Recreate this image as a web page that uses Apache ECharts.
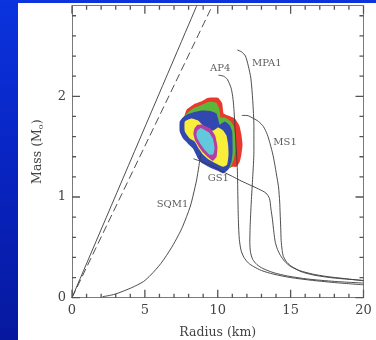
<!DOCTYPE html>
<html><head><meta charset="utf-8">
<script src="https://cdn.jsdelivr.net/npm/echarts@6/dist/echarts.min.js"></script>
<style>
html,body{margin:0;padding:0;width:376px;height:340px;overflow:hidden;
background:linear-gradient(to bottom,#0b33de 0%,#0824c0 50%,#06189e 100%);}
#chart{position:absolute;left:18px;top:3px;width:358px;height:337px;background:#fff;}
</style></head><body><div id="chart"></div>
<script>
// ---- ticks and tick labels ----
const xTickLabels = ['0','5','10','15','20'];
const yTickLabels = ['0','1','2'];
const xMajorTicks = [0,5,10,15,20];
const xMinorTicks = [1,2,3,4,6,7,8,9,11,12,13,14,16,17,18,19];
const yMajorTicks = [0,1,2];
const yMinorTicks = [0.2,0.4,0.6,0.8,1.2,1.4,1.6,1.8,2.2,2.4,2.6,2.8];

// ---- limit lines (radius km, mass Msun) ----
const gr_limit = [[0,0],[8.56,2.9]];
const causal_limit = [[0,0],[9.63,2.9]];

// ---- mass-radius curves ----
const SQM1 = [[2.1,0.01],[2.95,0.035],[4.1,0.10],[4.9,0.16],[5.4,0.225],[6.1,0.34],[6.84,0.50],[7.3,0.62],[7.6,0.71],[8.1,0.90],[8.35,1.04],[8.55,1.17],[8.7,1.30],[8.82,1.42]];
const AP4 = [[10.05,2.21],[10.4,2.20],[10.65,2.17],[10.92,2.08],[11.05,1.97],[11.12,1.85],[11.2,1.65],[11.28,1.45],[11.35,1.25],[11.38,1.0],[11.42,0.75],[11.48,0.58],[11.6,0.47],[11.8,0.40],[12.1,0.345],[12.45,0.31],[13.0,0.27],[13.8,0.235],[15.0,0.20],[16.5,0.172],[18.2,0.148],[20,0.128]];
const MPA1 = [[11.35,2.46],[11.65,2.44],[11.9,2.40],[12.1,2.30],[12.27,2.18],[12.4,1.96],[12.48,1.70],[12.48,1.45],[12.4,1.2],[12.3,0.95],[12.22,0.70],[12.2,0.55],[12.25,0.45],[12.4,0.38],[12.68,0.33],[13.1,0.29],[13.8,0.25],[14.8,0.215],[16.2,0.185],[18,0.162],[20,0.145]];
const MS1 = [[11.65,1.81],[12.0,1.81],[12.45,1.78],[12.8,1.75],[13.13,1.70],[13.4,1.62],[13.59,1.53],[13.8,1.41],[13.94,1.30],[14.08,1.18],[14.17,1.10],[14.25,0.95],[14.28,0.84],[14.32,0.70],[14.35,0.57],[14.42,0.47],[14.5,0.41],[14.75,0.35],[15.08,0.31],[15.7,0.26],[16.57,0.225],[18.0,0.195],[20,0.172]];
const GS1 = [[8.33,1.38],[9.0,1.345],[9.6,1.31],[10.3,1.255],[11.0,1.205],[11.6,1.16],[12.2,1.12],[12.8,1.08],[13.3,1.04],[13.55,0.985],[13.65,0.88],[13.75,0.78],[13.85,0.65],[13.95,0.55],[14.1,0.48],[14.3,0.42],[14.6,0.36],[15.0,0.31],[15.6,0.27],[16.5,0.235],[17.5,0.21],[18.7,0.19],[20,0.168]];

// ---- curve names and label anchors (data coords) ----
const curveNames = ['AP4','MPA1','MS1','GS1','SQM1'];
const curveLabelAt = [[10.16,2.28],[13.37,2.33],[14.62,1.54],[10.04,1.18],[6.9,0.93]];

// ---- probability contour regions (outer to inner) ----
const regionRed = [[7.7,1.80],[7.87,1.87],[8.35,1.92],[8.9,1.95],[9.34,1.985],[10.02,1.985],[10.3,1.93],[10.4,1.83],[10.71,1.81],[11.17,1.78],[11.48,1.71],[11.62,1.62],[11.7,1.52],[11.62,1.42],[11.51,1.35],[11.28,1.30],[11.0,1.30],[10.6,1.27],[9.5,1.3],[8.7,1.42],[8.0,1.55],[7.45,1.7]];
const regionGreen = [[7.8,1.82],[8.35,1.885],[8.9,1.915],[9.4,1.945],[9.9,1.935],[10.12,1.87],[10.2,1.79],[10.5,1.79],[10.9,1.75],[11.1,1.70],[11.2,1.62],[11.22,1.48],[11.12,1.38],[10.9,1.30],[10.6,1.27],[9.5,1.3],[8.7,1.42],[8.0,1.55],[7.45,1.7]];
const regionBlue = [[7.6,1.79],[7.9,1.82],[8.4,1.845],[8.9,1.86],[9.5,1.855],[9.91,1.83],[10.02,1.78],[10.14,1.72],[10.48,1.75],[10.83,1.71],[10.99,1.65],[11.02,1.45],[10.94,1.35],[10.71,1.27],[10.37,1.235],[10.0,1.26],[9.5,1.29],[8.88,1.34],[8.65,1.38],[8.31,1.48],[7.96,1.53],[7.62,1.58],[7.39,1.65],[7.39,1.75]];
const regionYellow = [[7.74,1.75],[8.19,1.78],[8.65,1.76],[8.99,1.71],[9.3,1.66],[9.7,1.66],[10.02,1.69],[10.37,1.66],[10.60,1.61],[10.71,1.52],[10.74,1.42],[10.64,1.32],[10.37,1.30],[9.91,1.33],[9.4,1.37],[9.0,1.42],[8.7,1.48],[8.42,1.55],[8.08,1.58],[7.74,1.65]];
const regionMagenta = [[8.4,1.68],[8.6,1.715],[8.9,1.72],[9.2,1.70],[9.5,1.68],[9.82,1.61],[9.98,1.50],[9.92,1.40],[9.66,1.36],[9.3,1.40],[8.95,1.45],[8.7,1.50],[8.45,1.56],[8.33,1.63]];
const regionCyan = [[8.6,1.66],[8.85,1.685],[9.1,1.665],[9.4,1.64],[9.66,1.58],[9.78,1.49],[9.7,1.425],[9.45,1.42],[9.1,1.47],[8.8,1.53],[8.6,1.58],[8.53,1.62]];
const regions = [regionRed, regionGreen, regionBlue, regionYellow, regionMagenta, regionCyan];
const regionColors = ['#e8392b','#5db63a','#3247b0','#f9ee3a','#b53ea0','#62c8dc'];

const FONT = 'DejaVu Serif';
const AX = '#7a7a7a';
const TK = '#555555';
const LINE = '#3a3a3a';
const X_MIN = 0, X_MAX = 20, Y_MIN = 0, Y_MAX = 2.9;

function xAxisDef(pos, showLabel) {
  return {
    type:'value', position:pos, min:X_MIN, max:X_MAX, interval:5,
    axisLine:{show:true, onZero:false, lineStyle:{color:AX, width:1}},
    axisTick:{show:false}, minorTick:{show:false}, splitLine:{show:false},
    axisLabel:{show:showLabel, margin:6, color:'#444', fontFamily:FONT, fontSize:13,
      formatter:(v)=>xTickLabels[Math.round(v/5)] || ''}
  };
}
function yAxisDef(pos, showLabel) {
  return {
    type:'value', position:pos, min:Y_MIN, max:Y_MAX, interval:1,
    axisLine:{show:true, onZero:false, lineStyle:{color:AX, width:1}},
    axisTick:{show:false}, splitLine:{show:false},
    axisLabel:{show:showLabel, showMaxLabel:false, margin:6, color:'#444', fontFamily:FONT, fontSize:13,
      formatter:(v)=> (Math.abs(v-Math.round(v))<1e-6 && yTickLabels[Math.round(v)]) ? yTickLabels[Math.round(v)] : ''}
  };
}
const xMain = xAxisDef('bottom', true);
xMain.name = 'Radius (km)';
xMain.nameLocation = 'middle';
xMain.nameGap = 29;
xMain.nameTextStyle = {fontFamily:FONT, fontSize:12.5, color:'#444'};
const yMain = yAxisDef('left', true);
yMain.name = 'Mass (M{s|o})';
yMain.nameLocation = 'middle';
yMain.nameGap = 27;
yMain.nameTextStyle = {fontFamily:FONT, fontSize:12.5, color:'#444',
  rich:{s:{fontFamily:FONT, fontSize:8, color:'#444', verticalAlign:'bottom', padding:[6,0,0,0]}}};

// tick items drawn as short line series through the axes' own scales
function tickSeries(points) {
  return {
    type:'line', data:points, xAxisIndex:0, yAxisIndex:0, z:6,
    showSymbol:false, symbol:'none', clip:false, connectNulls:false, silent:true,
    lineStyle:{color:TK, width:1.3}
  };
}
// each tick is a short segment (from axis edge inward); null separates segments
const X_MAJ_LEN = 0.08, X_MIN_LEN = 0.04;   // in mass units (vertical ticks)
const Y_MAJ_LEN = 0.55, Y_MIN_LEN = 0.275;  // in km units (horizontal ticks)
const tickSegs = [];
xMajorTicks.forEach(v=>{ tickSegs.push([v,Y_MIN],[v,Y_MIN+X_MAJ_LEN],null,[v,Y_MAX],[v,Y_MAX-X_MAJ_LEN],null); });
xMinorTicks.forEach(v=>{ tickSegs.push([v,Y_MIN],[v,Y_MIN+X_MIN_LEN],null,[v,Y_MAX],[v,Y_MAX-X_MIN_LEN],null); });
yMajorTicks.forEach(v=>{ tickSegs.push([X_MIN,v],[X_MIN+Y_MAJ_LEN,v],null,[X_MAX,v],[X_MAX-Y_MAJ_LEN,v],null); });
yMinorTicks.forEach(v=>{ tickSegs.push([X_MIN,v],[X_MIN+Y_MIN_LEN,v],null,[X_MAX,v],[X_MAX-Y_MIN_LEN,v],null); });

function lineSeries(name, data, dashed) {
  return {
    type:'line', name:name, data:data, xAxisIndex:0, yAxisIndex:0,
    showSymbol:false, symbol:'none', smooth:0.25, clip:true, z:3,
    lineStyle:{color:LINE, width:0.9, type: dashed ? [8,4] : 'solid'}
  };
}
const option = {
  animation:false,
  backgroundColor:'#ffffff',
  grid:{left:54, right:12.5, top:2.7, bottom:42.3, containLabel:false, outerBoundsMode:'none'},
  xAxis:[xMain, xAxisDef('top', false)],
  yAxis:[yMain, yAxisDef('right', false)],
  series:[
    {
      type:'custom', xAxisIndex:0, yAxisIndex:0, z:1, clip:true,
      data: regions.map((r,i)=>[r[0][0], r[0][1], i]),
      encode:{x:0, y:1},
      renderItem:function(params, api){
        const idx = api.value(2);
        const pts = regions[idx].map(p=>api.coord(p));
        return {type:'polygon', shape:{points:pts, smooth:0.15},
          style:{fill:regionColors[idx], stroke:null}};
      }
    },
    tickSeries(tickSegs.map(p=> p === null ? [null, null] : p)),
    lineSeries('gr', gr_limit, false),
    lineSeries('causal', causal_limit, true),
    lineSeries('SQM1', SQM1),
    lineSeries('AP4', AP4),
    lineSeries('MPA1', MPA1),
    lineSeries('MS1', MS1),
    lineSeries('GS1', GS1),
    {
      type:'scatter', xAxisIndex:0, yAxisIndex:0, symbolSize:0, z:4,
      data: curveNames.map((n,i)=>({name:n, value:curveLabelAt[i]})),
      label:{show:true, position:'inside', formatter:(p)=>p.name,
        fontFamily:FONT, fontSize:10, color:'#333'}
    }
  ]
};
const chart = echarts.init(document.getElementById('chart'), null, {renderer:'canvas'});
chart.setOption(option);
</script></body></html>
